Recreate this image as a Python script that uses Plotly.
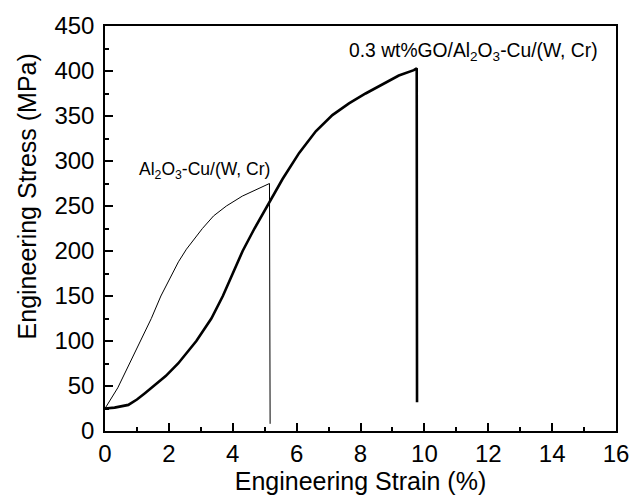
import plotly.graph_objects as go

# Al2O3-Cu/(W, Cr) curve (thin)
strain_base = [0.0, 0.40, 0.70, 1.10, 1.45, 1.75, 2.10, 2.30, 2.55, 2.80, 3.05, 3.40, 3.80, 4.30, 4.90, 5.10, 5.15, 5.17]
stress_base = [25, 48, 70, 100, 125, 150, 175, 188, 202, 214, 225, 239, 250, 261, 271, 275, 275, 8]

# 0.3 wt%GO/Al2O3-Cu/(W, Cr) curve (thick)
strain_go = [0.0, 0.30, 0.73, 1.00, 1.25, 1.51, 1.90, 2.29, 2.86, 3.33, 3.69, 4.00, 4.31, 4.68, 5.09,
             5.56, 6.08, 6.60, 7.12, 7.64, 8.16, 8.68, 9.20, 9.67, 9.76, 9.77]
stress_go = [25, 26, 29, 35, 42, 50, 61, 75, 100, 125, 150, 175, 200, 225, 250,
             280, 309, 333, 351, 364, 375, 385, 395, 401, 403, 32]

x_ticks = [0, 2, 4, 6, 8, 10, 12, 14, 16]
y_ticks = [0, 50, 100, 150, 200, 250, 300, 350, 400, 450]

FONT = "Liberation Sans, Arial"

fig = go.Figure()
fig.add_trace(go.Scatter(x=strain_base, y=stress_base, mode="lines",
                         line=dict(color="black", width=1),
                         showlegend=False))
fig.add_trace(go.Scatter(x=strain_go, y=stress_go, mode="lines",
                         line=dict(color="black", width=2.6),
                         showlegend=False))

fig.add_annotation(x=3.1, y=289, text="Al<sub>2</sub>O<sub>3</sub>-Cu/(W, Cr)",
                   showarrow=False, font=dict(size=17.5, color="black", family=FONT))
fig.add_annotation(x=11.55, y=421, text="0.3 wt%GO/Al<sub>2</sub>O<sub>3</sub>-Cu/(W, Cr)",
                   showarrow=False, font=dict(size=19.3, color="black", family=FONT))

# y-axis title placed as an annotation (it sits above the plot centre in the reference)
fig.add_annotation(xref="paper", yref="paper", x=-0.152, y=0.58,
                   text="Engineering Stress (MPa)", textangle=-90, showarrow=False,
                   xanchor="center", yanchor="middle",
                   font=dict(size=25, color="black", family=FONT))

axis_common = dict(showline=True, linecolor="black", linewidth=1.5, mirror=True,
                   ticks="inside", ticklen=8, tickwidth=1.5, tickcolor="black",
                   showgrid=False, zeroline=False,
                   tickfont=dict(size=24, color="black", family=FONT))

fig.update_xaxes(range=[0, 16], tickvals=x_ticks, ticktext=[str(v) for v in x_ticks],
                 minor=dict(ticks="inside", ticklen=4, dtick=1, tick0=0, tickcolor="black", tickwidth=1.5),
                 title=dict(text="Engineering Strain (%)", standoff=6,
                            font=dict(size=25, color="black", family=FONT)),
                 **axis_common)
fig.update_yaxes(range=[0, 450], tickvals=y_ticks, ticktext=[str(v) for v in y_ticks],
                 minor=dict(ticks="inside", ticklen=4, dtick=25, tick0=0, tickcolor="black", tickwidth=1.5),
                 ticklabelstandoff=4,
                 **axis_common)

fig.update_layout(width=641, height=502, margin=dict(l=105, r=23, t=19, b=69),
                  plot_bgcolor="white", paper_bgcolor="white",
                  font=dict(family=FONT, color="black"))

fig.write_html("out.html")
